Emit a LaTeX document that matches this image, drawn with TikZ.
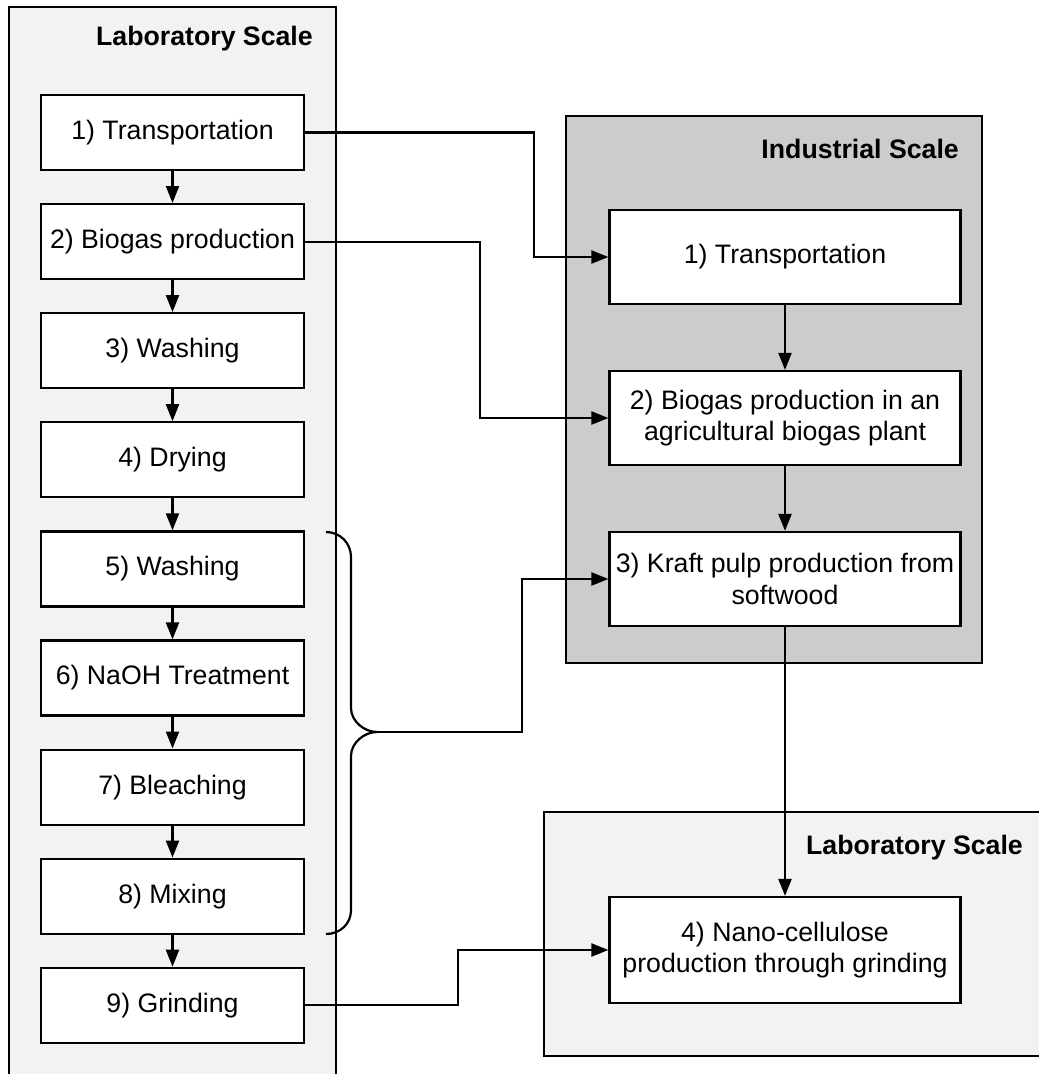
\documentclass[tikz,border=0pt]{standalone}
\usepackage{fontspec}
\setmainfont{Liberation Sans}
\usetikzlibrary{arrows.meta}
\definecolor{paneLight}{HTML}{F2F2F2}
\definecolor{paneDark}{HTML}{CCCCCC}
\begin{document}
\begin{tikzpicture}[x=1pt,y=-1pt,
  every node/.style={font=\fontsize{26.7}{31.5}\selectfont},
  pane/.style={line width=2.2pt, draw=black},
  title/.style={font=\fontsize{26.7}{31.5}\selectfont\bfseries, anchor=base east, inner sep=0pt},
  stepbox/.style={draw, line width=2.2pt, fill=white, minimum width=263pt, minimum height=75pt, inner sep=2pt, align=center},
  widebox/.style={draw, line width=2.2pt, fill=white, minimum width=351pt, minimum height=94pt, inner sep=2pt, align=center},
  arr/.style={line width=2.2pt, -{Triangle[length=17pt,width=13pt]}},
  link/.style={line width=2.2pt}
]
\path[use as bounding box] (0,0) rectangle (1039,1074);
\clip (0,0) rectangle (1039,1074);

% background panes
\draw[pane, fill=paneLight] (9,7) rectangle (336,1090);
\draw[pane, fill=paneDark] (566,116) rectangle (982,663);
\draw[pane, fill=paneLight] (544,812) rectangle (1050,1056);

% pane titles
\node[title] (labA) at (313,45) {Laboratory Scale};
\node[title] (ind) at (959,158) {Industrial Scale};
\node[title] (labB) at (1023,854) {Laboratory Scale};

% laboratory steps
\node[stepbox] (l1) at (172.5,132.5) {1) Transportation};
\node[stepbox] (l2) at (172.5,241.6) {2) Biogas production};
\node[stepbox] (l3) at (172.5,350.7) {3) Washing};
\node[stepbox] (l4) at (172.5,459.8) {4) Drying};
\node[stepbox] (l5) at (172.5,568.9) {5) Washing};
\node[stepbox] (l6) at (172.5,678.0) {6) NaOH Treatment};
\node[stepbox] (l7) at (172.5,787.1) {7) Bleaching};
\node[stepbox] (l8) at (172.5,896.2) {8) Mixing};
\node[stepbox] (l9) at (172.5,1005.3) {9) Grinding};

% industrial steps
\node[widebox] (i1) at (785,257) {1) Transportation};
\node[widebox] (i2) at (785,418) {2) Biogas production in an\\agricultural biogas plant};
\node[widebox] (i3) at (785,579) {3) Kraft pulp production from\\softwood};

% final laboratory step
\node[widebox, minimum height=106pt] (n4) at (785,950) {4) Nano-cellulose\\production through grinding};

% chain of laboratory steps
\foreach \a/\b in {l1/l2,l2/l3,l3/l4,l4/l5,l5/l6,l6/l7,l7/l8,l8/l9}
  \draw[arr] (\a.south) -- (\b.north);

% industrial chain
\draw[arr] (i1.south) -- (i2.north);
\draw[arr] (i2.south) -- (i3.north);
\draw[arr] (i3.south) -- (n4.north);

% brace grouping steps 5 to 8
\coordinate (bt) at (377,732);
\draw[link] (326,532) .. controls (340,532) and (351,543) .. (351,557)
  -- (351,708) .. controls (351,721) and (364,732) .. (bt)
  .. controls (364,732) and (351,743) .. (351,756)
  -- (351,910) .. controls (351,924) and (340,934) .. (326,934);

% links to the other scales
\draw[arr] (l1.east) -- ++(229,0) |- (i1.west);
\draw[arr] (l2.east) -- ++(175,0) |- (i2.west);
\draw[arr] (bt) -- ++(145,0) |- (i3.west);
\draw[arr] (l9.east) -- ++(153,0) |- (n4.west);
\end{tikzpicture}
\end{document}
